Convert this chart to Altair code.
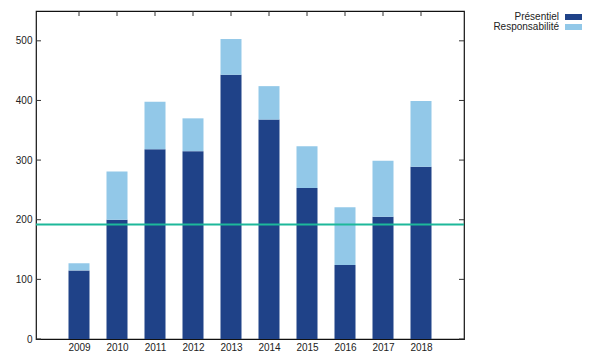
import altair as alt
import pandas as pd

years = [2009, 2010, 2011, 2012, 2013, 2014, 2015, 2016, 2017, 2018]
presentiel = [115, 200, 318, 315, 443, 368, 253, 124, 205, 289]
responsabilite = [12, 81, 80, 55, 60, 56, 70, 97, 94, 110]
series = ["Présentiel", "Responsabilité"]
colors = ["#1f4288", "#92c8e8"]
seuil = [192]
y_ticks = [0, 100, 200, 300, 400, 500]

rows = []
for i, yr in enumerate(years):
    rows.append({"year": yr, "series": series[0], "value": presentiel[i], "ord": 0})
    rows.append({"year": yr, "series": series[1], "value": responsabilite[i], "ord": 1})
df = pd.DataFrame(rows)

W, H = 428, 328
FONT = "Liberation Sans"

xscale = alt.Scale(domain=[2008, 2019], nice=False, zero=False)
yscale = alt.Scale(domain=[0, 550], nice=False)
xaxis = alt.Axis(values=years, format="d", ticks=False, grid=False,
                 domain=False, title=None, labelPadding=3,
                 labelFontSize=10, labelColor="#222", labelFont=FONT)
yaxis = alt.Axis(values=y_ticks, ticks=False, grid=False, domain=False,
                 title=None, labelPadding=4, labelFontSize=10,
                 labelColor="#222", labelFont=FONT)

bars = alt.Chart(df).mark_bar(size=21).encode(
    x=alt.X("year:Q", scale=xscale, axis=xaxis),
    y=alt.Y("value:Q", stack="zero", scale=yscale, axis=yaxis),
    color=alt.Color("series:N", scale=alt.Scale(domain=series, range=colors),
                    legend=alt.Legend(title=None, orient="none", legendX=533, legendY=1,
                                      symbolType="M-1.8,-0.6H1.8V0.6H-1.8Z",
                                      symbolSize=100, symbolStrokeWidth=0,
                                      labelAlign="right", labelOffset=alt.ExprRef("-20"),
                                      labelFontSize=10, labelFont=FONT, labelColor="#222",
                                      rowPadding=0, padding=0)),
    order=alt.Order("ord:Q"),
)

hline = alt.Chart(pd.DataFrame({"value": seuil})).mark_rule(color="#1db89a", strokeWidth=1.8).encode(
    y=alt.Y("value:Q", scale=yscale, axis=yaxis)
)

tdf = pd.DataFrame({"value": y_ticks})
left_ticks = alt.Chart(tdf).mark_rule(color="#333", strokeWidth=1).encode(
    y=alt.Y("value:Q", scale=yscale, axis=yaxis), x=alt.value(0), x2=alt.value(5)
)
right_ticks = alt.Chart(tdf).mark_rule(color="#333", strokeWidth=1).encode(
    y=alt.Y("value:Q", scale=yscale, axis=yaxis), x=alt.value(W - 5), x2=alt.value(W)
)
top_ticks = alt.Chart(pd.DataFrame({"year": years})).mark_rule(color="#333", strokeWidth=1).encode(
    x=alt.X("year:Q", scale=xscale, axis=xaxis), y=alt.value(0), y2=alt.value(5)
)

chart = alt.layer(bars, hline, left_ticks, right_ticks, top_ticks).properties(
    width=W, height=H,
    autosize=alt.AutoSizeParams(type="none"),
    padding={"left": 28, "top": 3, "right": 118, "bottom": 13},
).configure_view(stroke="#111", strokeWidth=1.2)

chart.save("out.html", embed_options={"renderer": "svg", "actions": False})
